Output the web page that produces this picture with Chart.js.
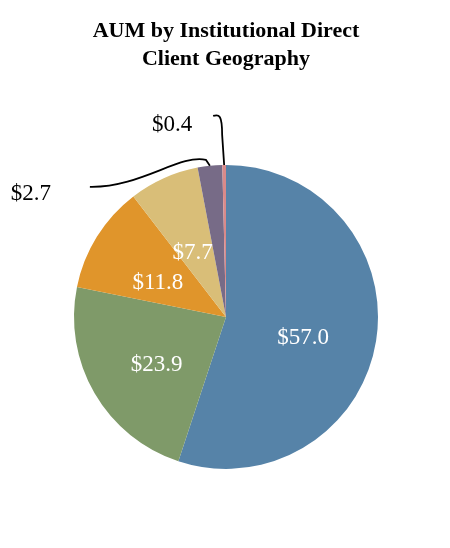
<!DOCTYPE html>
<html>
<head>
<meta charset="utf-8">
<script src="https://cdn.jsdelivr.net/npm/chart.js@4.4.0/dist/chart.umd.min.js"></script>
<style>
  html, body { margin: 0; padding: 0; background: #fff; }
  #wrap { width: 450px; height: 548px; }
</style>
</head>
<body>
<div id="wrap"><canvas id="chart" width="450" height="548"></canvas></div>
<script>
// regions (clockwise from top)
const regions = ['Region A', 'Region B', 'Region C', 'Region D', 'Region E', 'Region F']
const aum = [57.0, 23.9, 11.8, 7.7, 2.7, 0.4]
const sliceColors = ['#5683A8', '#7F9A69', '#E0952B', '#D9BE78', '#776B87', '#D98A8A']

// small slices get an outside label with a leader line
// (offsets from the slice's outer edge, in px)
const outside = {
    4: { text: [-179, 28], elbow: [-4, -6], ctrl1: [-30, -12], ctrl2: [-70, 22], end: [-120, 21] },
    5: { text: [-52, -40], elbow: [-2, -30], ctrl1: [-2, -50], ctrl2: [-5, -51], end: [-11, -49] }
}

const labelPlugin = {
    id: 'sliceLabels',
    afterDatasetsDraw(chart) {
        const ctx = chart.ctx
        const meta = chart.getDatasetMeta(0)
        ctx.save()
        ctx.font = '23px "Liberation Serif", "Times New Roman", serif'
        ctx.textAlign = 'center'
        ctx.textBaseline = 'middle'
        meta.data.forEach((arc, i) => {
            const label = '$' + aum[i].toFixed(1)
            const mid = (arc.startAngle + arc.endAngle) / 2
            if (outside[i]) {
                const o = outside[i]
                const ex = arc.x + Math.cos(mid) * arc.outerRadius
                const ey = arc.y + Math.sin(mid) * arc.outerRadius
                ctx.strokeStyle = '#000'
                ctx.lineWidth = 1.8
                ctx.beginPath()
                ctx.moveTo(ex, ey)
                ctx.lineTo(ex + o.elbow[0], ey + o.elbow[1])
                ctx.bezierCurveTo(ex + o.ctrl1[0], ey + o.ctrl1[1], ex + o.ctrl2[0], ey + o.ctrl2[1],
                    ex + o.end[0], ey + o.end[1])
                ctx.stroke()
                ctx.fillStyle = '#000'
                ctx.fillText(label, ex + o.text[0], ey + o.text[1])
            } else {
                const r = arc.outerRadius * 0.52
                ctx.fillStyle = '#fff'
                ctx.fillText(label, arc.x + Math.cos(mid) * r - 1, arc.y + Math.sin(mid) * r + 8)
            }
        })
        ctx.restore()
    }
}

new Chart(document.getElementById('chart'), {
    type: 'pie',
    data: {
        labels: regions,
        datasets: [{
            data: aum,
            backgroundColor: sliceColors,
            borderWidth: 0
        }]
    },
    options: {
        responsive: false,
        animation: false,
        layout: { padding: { top: 0, bottom: 79, left: 74, right: 72 } },
        plugins: {
            legend: { display: false },
            tooltip: { enabled: false },
            title: {
                display: true,
                text: ['AUM by Institutional Direct', 'Client Geography'],
                color: '#000',
                font: { family: '"Liberation Serif", "Times New Roman", serif', size: 22, weight: 'bold', lineHeight: 1.27 },
                padding: { top: 17, bottom: 92 }
            }
        }
    },
    plugins: [labelPlugin]
})
</script>
</body>
</html>
